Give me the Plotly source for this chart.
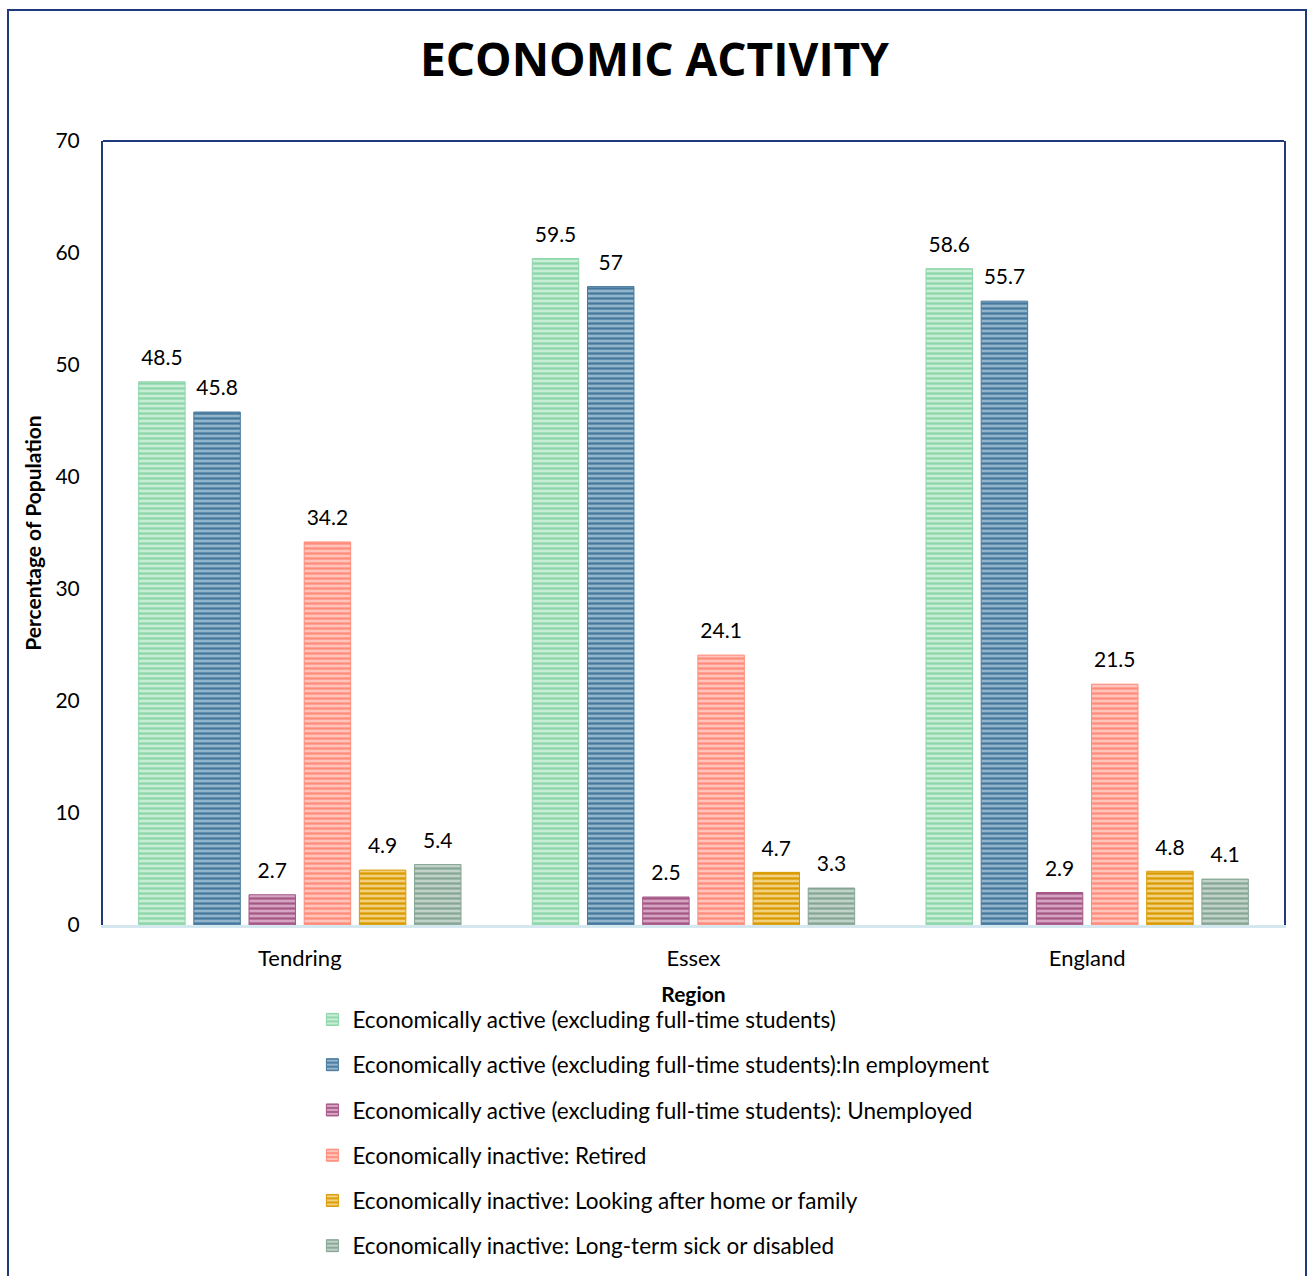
import plotly.graph_objects as go

regions = ["Tendring", "Essex", "England"]
series_names = [
    "Economically active (excluding full-time students)",
    "Economically active (excluding full-time students):In employment",
    "Economically active (excluding full-time students): Unemployed",
    "Economically inactive: Retired",
    "Economically inactive: Looking after home or family",
    "Economically inactive: Long-term sick or disabled",
]
active = [48.5, 59.5, 58.6]
employed = [45.8, 57, 55.7]
unemployed = [2.7, 2.5, 2.9]
retired = [34.2, 24.1, 21.5]
home_family = [4.9, 4.7, 4.8]
sick_disabled = [5.4, 3.3, 4.1]
series_values = [active, employed, unemployed, retired, home_family, sick_disabled]

bg_colors = ["#c8eed6", "#93b5cc", "#d6a4c2", "#ffc4ba", "#f2d07e", "#c0d2c9"]
fg_colors = ["#8cd5a8", "#45789c", "#a45886", "#ff8b7b", "#d99a00", "#86a595"]

FONT = "Lato"
NAVY = "#1f3a7a"

fig = go.Figure()
for i, (name, vals) in enumerate(zip(series_names, series_values)):
    fig.add_trace(go.Bar(
        x=regions, y=vals, name=name,
        legendgroup=f"g{i}",
        marker=dict(
            color=bg_colors[i],
            line=dict(color=fg_colors[i], width=1),
            pattern=dict(shape="-", fgcolor=fg_colors[i], bgcolor=bg_colors[i],
                         size=5, solidity=0.45, fillmode="replace"),
        ),
        text=[f"<span style='font-size:21px'>{v}</span><br>&nbsp;" for v in vals],
        textposition="outside",
        textfont=dict(size=9, color="#000000", family=FONT),
        cliponaxis=False,
    ))

fig.update_layout(
    width=1309, height=1276, autosize=False,
    barmode="group", bargap=0.159, bargroupgap=0.158,
    paper_bgcolor="white", plot_bgcolor="white",
    margin=dict(l=103, r=25, t=141, b=351, autoexpand=False),
    font=dict(family=FONT, size=22, color="#000000"),
    title=dict(text="<b>ECONOMIC ACTIVITY</b>", x=0.5, xanchor="center",
               y=1 - 60 / 1276, yanchor="middle",
               font=dict(size=46, family="Open Sans", color="#000000")),
    xaxis=dict(
        showline=True, linecolor="#d6e8ef", linewidth=3,
        ticks="", tickfont=dict(size=22), ticklabelstandoff=12,
        title=dict(text="<b>Region</b>", font=dict(size=21), standoff=17),
    ),
    yaxis=dict(
        range=[0, 70], dtick=10, showgrid=False, zeroline=False,
        showline=True, mirror=True, linecolor=NAVY, linewidth=2,
        ticks="", tickfont=dict(size=21),
        ticklabelstandoff=17,
        title=dict(text="<b>Percentage of Population</b>", font=dict(size=21), standoff=8),
    ),
    legend=dict(
        orientation="v", x=0.1773, xanchor="left", y=-0.0935, yanchor="top",
        traceorder="grouped", tracegroupgap=13,
        font=dict(size=22.5), itemwidth=30,
    ),
    shapes=[
        dict(type="line", xref="paper", yref="paper", x0=0, x1=1, y0=1, y1=1,
             line=dict(color=NAVY, width=2), layer="below"),
        dict(type="rect", xref="paper", yref="paper",
             x0=(8 - 103) / 1181, x1=(1306 - 103) / 1181,
             y0=-0.46, y1=1 + (141 - 10) / 784,
             line=dict(color=NAVY, width=2), layer="below"),
    ],
)

fig.write_html("out.html", config={"displayModeBar": False},
               post_script="document.body.style.margin='0';")
